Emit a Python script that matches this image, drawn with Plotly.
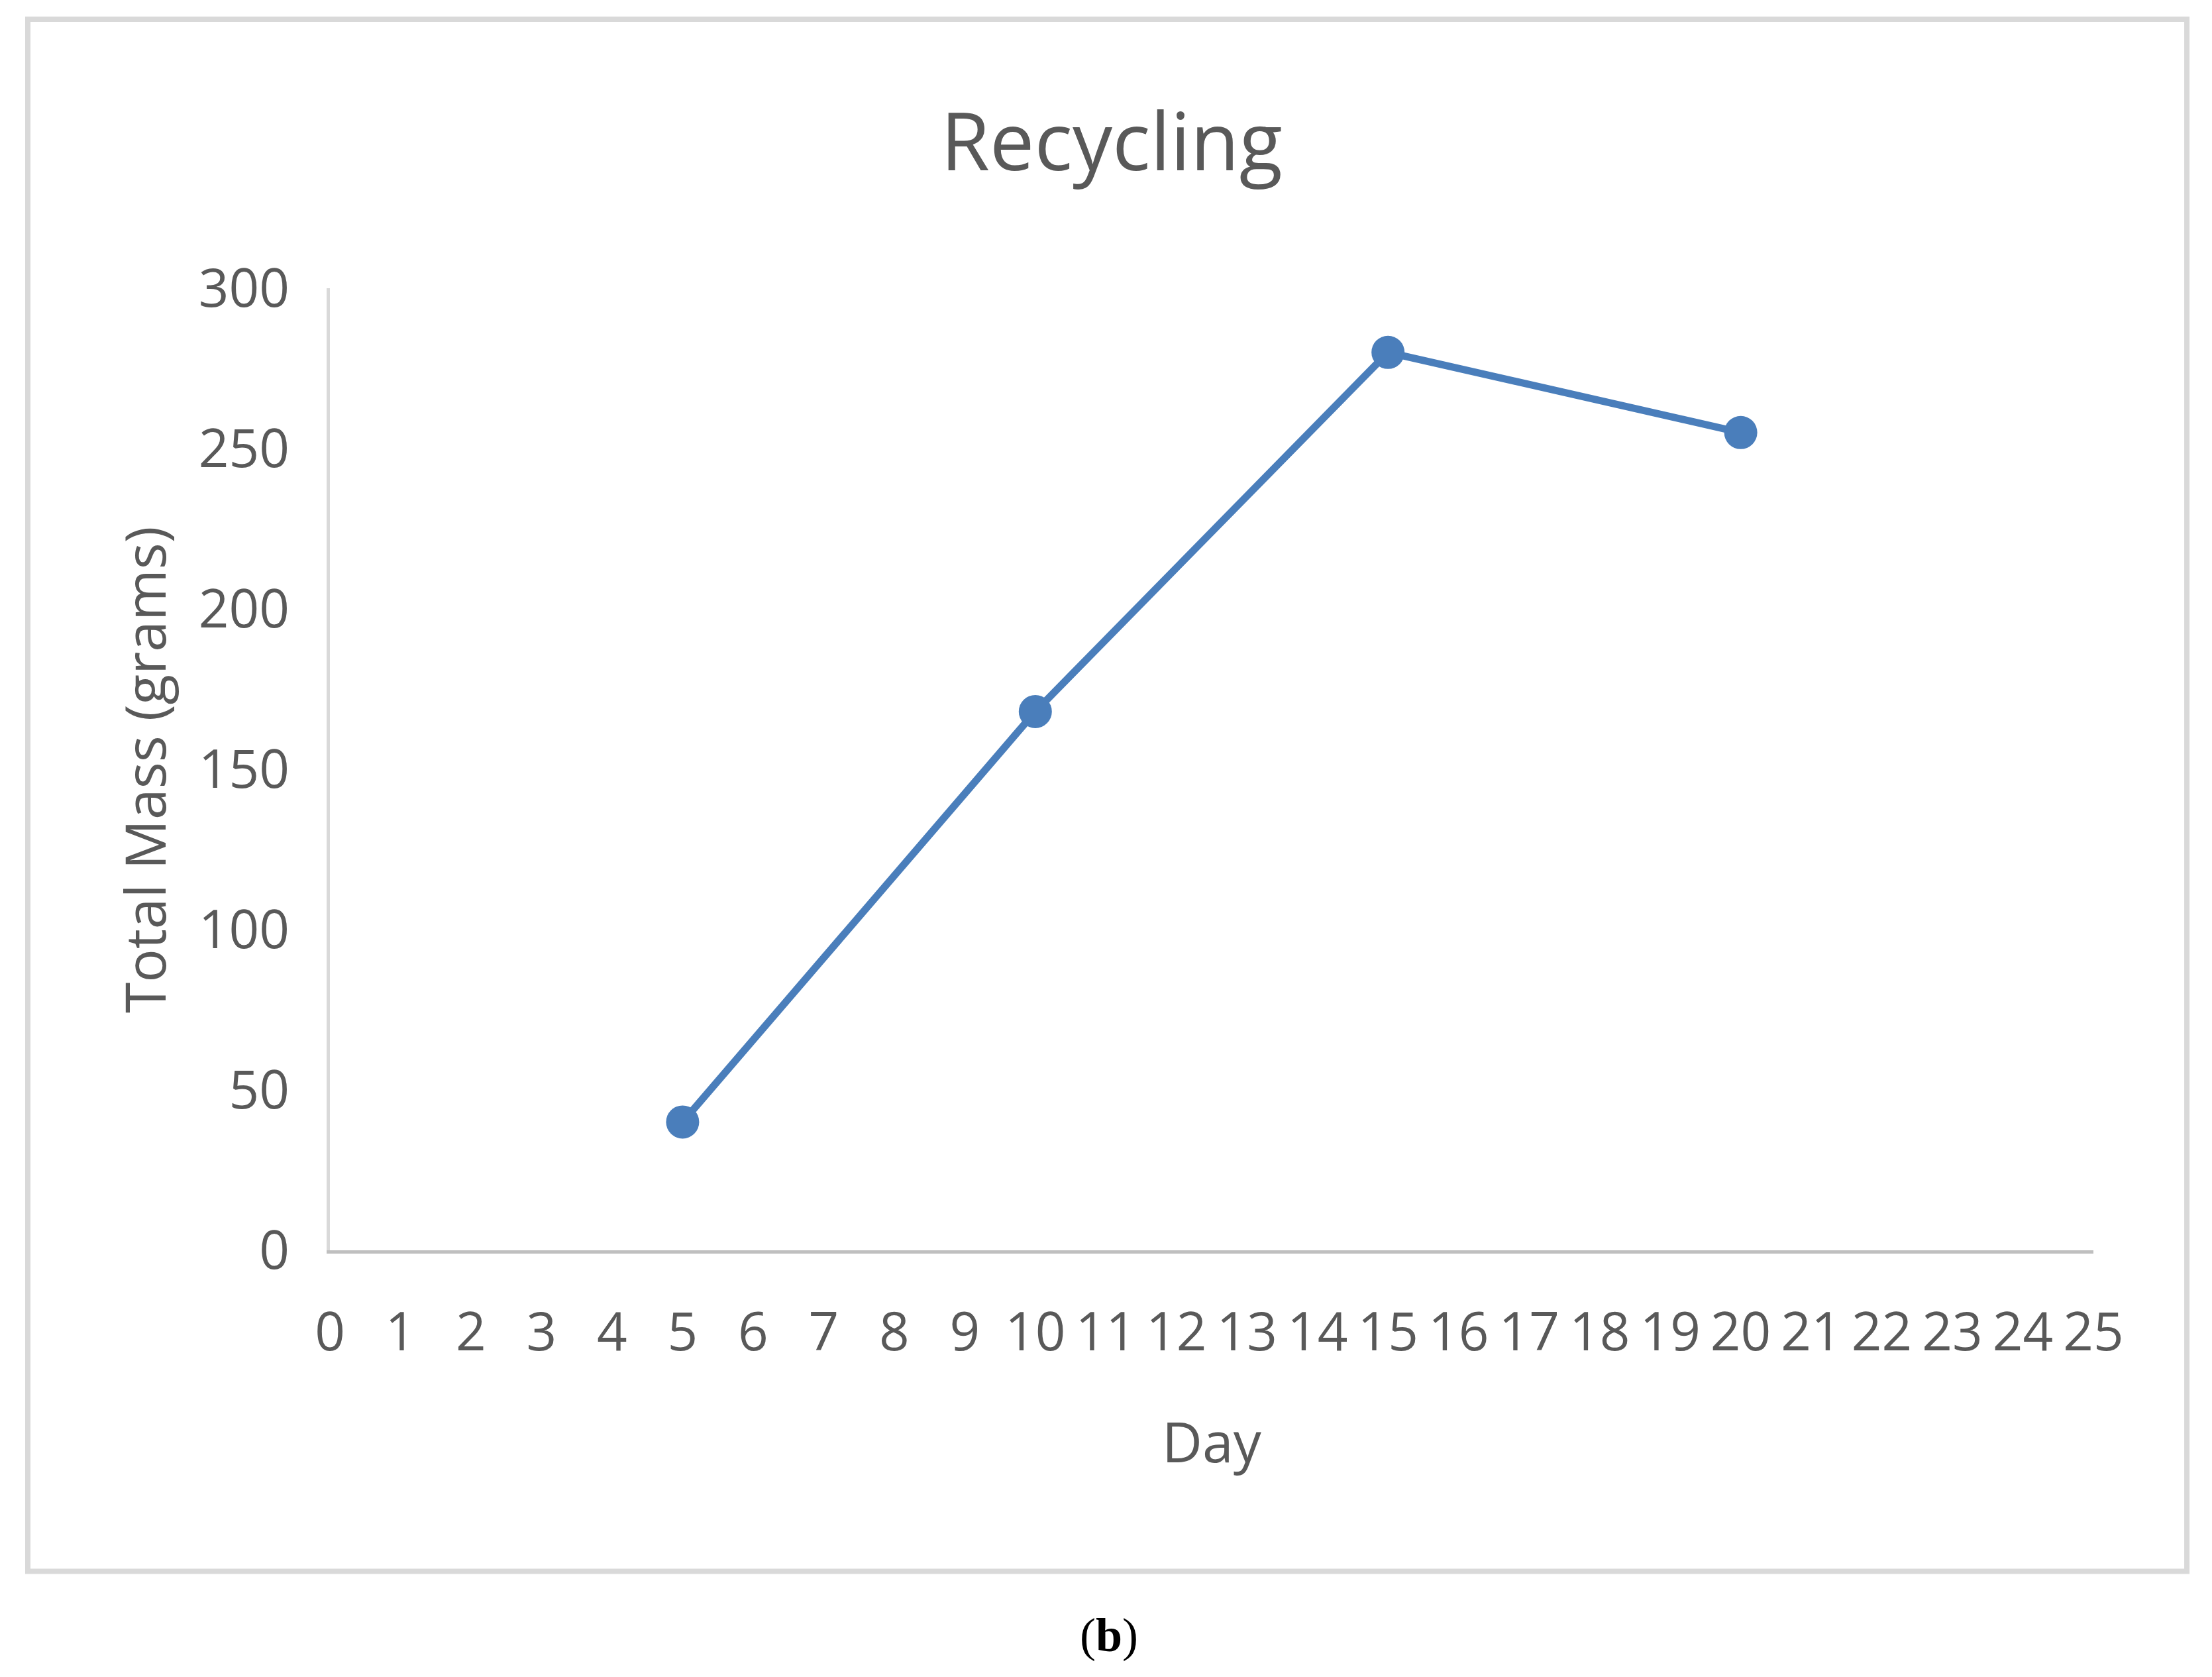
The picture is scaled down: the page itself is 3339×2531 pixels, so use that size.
import plotly.graph_objects as go

days = [5, 10, 15, 20]
mass = [40, 168, 280, 255]
x_ticks = list(range(0, 26))
y_ticks = [0, 50, 100, 150, 200, 250, 300]

gray = "#595959"
fig = go.Figure(go.Scatter(x=days, y=mass, mode="lines+markers",
                           line=dict(color="#4a7ebb", width=11),
                           marker=dict(color="#4a7ebb", size=50)))
fig.update_layout(
    width=3339, height=2531, paper_bgcolor="white", plot_bgcolor="white",
    margin=dict(l=490, r=187, t=427, b=652), showlegend=False,
    font=dict(family="Open Sans", color=gray, size=80),
)
fig.update_xaxes(range=[0, 25], tickvals=x_ticks, showgrid=False, zeroline=False,
                 showline=True, linecolor="#bfbfbf", linewidth=5,
                 tickfont=dict(size=80, color=gray), ticklabelstandoff=50)
fig.update_yaxes(range=[0, 300], tickvals=y_ticks, showgrid=False, zeroline=False,
                 showline=True, linecolor="#d9d9d9", linewidth=5,
                 tickfont=dict(size=80, color=gray), ticklabelstandoff=40)
fig.add_shape(type="rect", xref="paper", yref="paper", x0=-0.1713, x1=1.053,
              y0=-0.3336, y1=1.2797, line=dict(color="#d9d9d9", width=8))
fig.add_annotation(text="Recycling", xref="paper", yref="paper", x=(1674-494)/2662,
                   y=(1885-213)/1448, xanchor="center", yanchor="middle",
                   showarrow=False, font=dict(size=120, color=gray))
fig.add_annotation(text="Day", xref="paper", yref="paper", x=0.5, y=-0.198,
                   xanchor="center", yanchor="middle",
                   showarrow=False, font=dict(size=84, color=gray))
fig.add_annotation(text="Total Mass (grams)", xref="paper", yref="paper", x=-0.1056,
                   y=0.5, xanchor="center", yanchor="middle", textangle=-90,
                   showarrow=False, font=dict(size=84, color=gray))
fig.add_annotation(text="(<b>b</b>)", xref="paper", yref="paper", x=0.4418, y=-0.40,
                   xanchor="center", yanchor="middle",
                   showarrow=False, font=dict(size=72, color="black", family="Liberation Serif"))
fig.write_html("out.html")
